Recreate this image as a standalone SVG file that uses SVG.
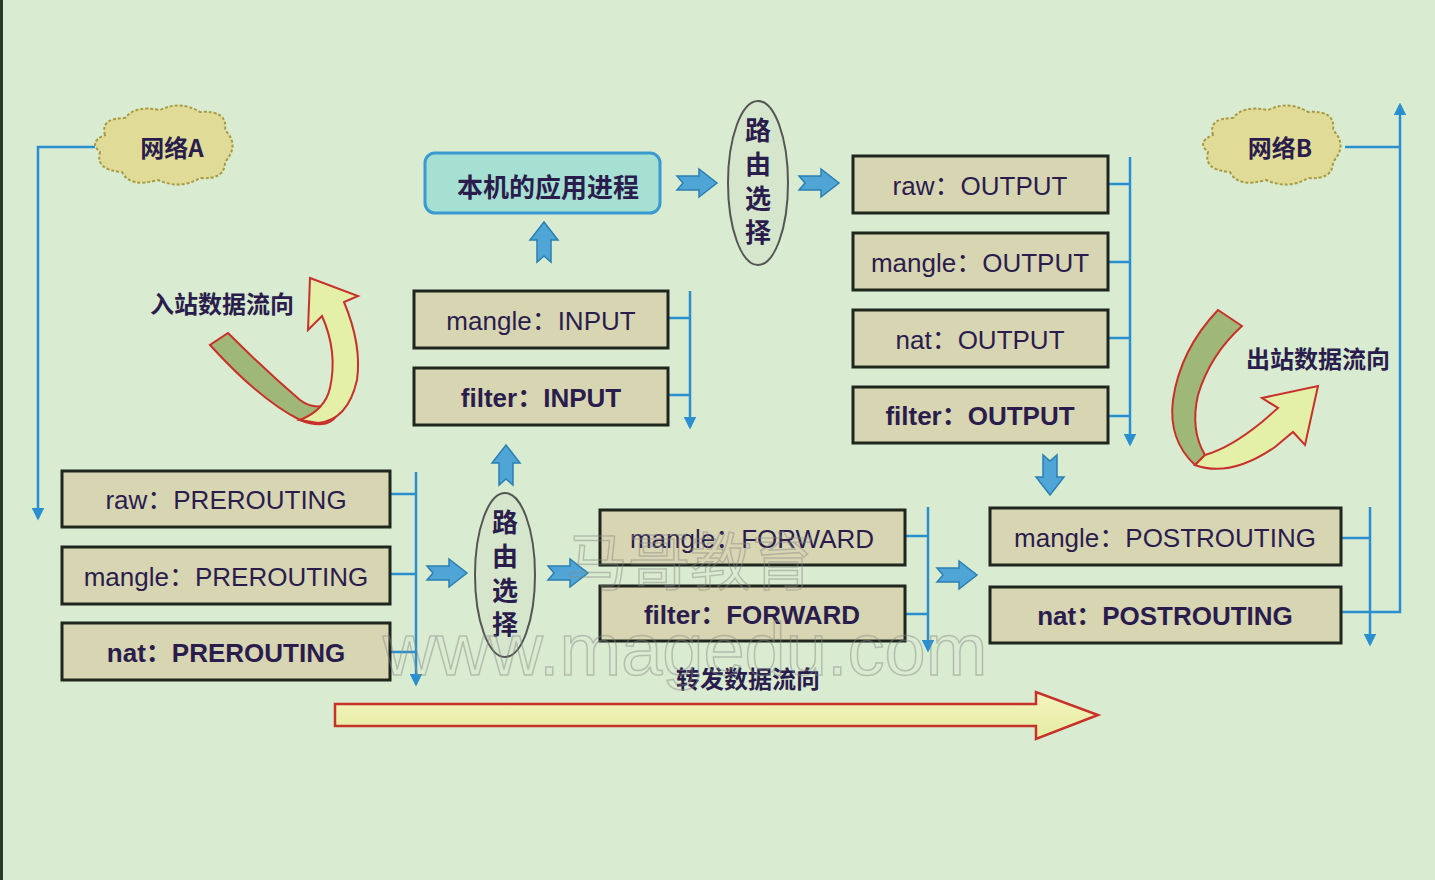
<svg xmlns="http://www.w3.org/2000/svg" width="1435" height="880" viewBox="0 0 1435 880">
<defs>
<style>
.box{fill:#d8d5b2;stroke:#1e261e;stroke-width:3}
.t{font-family:"Liberation Sans","Noto Sans CJK SC",sans-serif;font-size:26px;fill:#2a1d4d;text-anchor:middle}
.b{font-weight:bold}
.cj{font-family:"Noto Sans CJK SC",sans-serif;font-weight:bold;fill:#2a1d4d;text-anchor:middle}
.bus{stroke:#2a8fd0;stroke-width:2.5;fill:none}
.ba{fill:#4fa6d6;stroke:#2b7fb3;stroke-width:1.5}
.ell{fill:#d6e6cc;stroke:#555;stroke-width:2}
.cloud{fill:#e0dc98;stroke:#a89a40;stroke-width:2;stroke-dasharray:3 2}
.wm{font-family:"Liberation Sans","Noto Sans CJK SC",sans-serif;fill:none;stroke:#888;stroke-width:1.5;opacity:0.45;text-anchor:middle}
</style>
<marker id="ah" viewBox="0 0 10 10" refX="8" refY="5" markerWidth="5" markerHeight="5" orient="auto"><path d="M0,0 L10,5 L0,10 Z" fill="#2a8fd0"/></marker>
<path id="ra" d="M-20,-7 L2,-7 L2,-14 L20,0 L2,14 L2,7 L-20,7 L-14,0 Z"/>
<linearGradient id="yg" x1="0" y1="0" x2="0" y2="1"><stop offset="0" stop-color="#f4f4c0"/><stop offset="1" stop-color="#e4eca0"/></linearGradient>
</defs>
<rect width="1435" height="880" fill="#d9ebd0"/>
<rect width="3" height="880" fill="#2a3a2a"/>

<g id="connectors">
<path class="bus" d="M95,147 H38 V518" marker-end="url(#ah)"/>
<path class="bus" d="M416,472 V684" marker-end="url(#ah)"/>
<path class="bus" d="M390,494 H416 M390,574 H416 M390,652 H416"/>
<path class="bus" d="M690,291 V427" marker-end="url(#ah)"/>
<path class="bus" d="M668,318 H690 M668,395 H690"/>
<path class="bus" d="M1130,157 V444" marker-end="url(#ah)"/>
<path class="bus" d="M1108,184 H1130 M1108,262 H1130 M1108,338 H1130 M1108,416 H1130"/>
<path class="bus" d="M928,507 V650" marker-end="url(#ah)"/>
<path class="bus" d="M905,536 H928 M905,614 H928"/>
<path class="bus" d="M1370,507 V644" marker-end="url(#ah)"/>
<path class="bus" d="M1341,538 H1370"/>
<path class="bus" d="M1341,612 H1400 V105" marker-end="url(#ah)"/>
<path class="bus" d="M1345,147 H1400"/>
<use href="#ra" class="ba" transform="translate(447,573)"/>
<use href="#ra" class="ba" transform="translate(568,573)"/>
<use href="#ra" class="ba" transform="translate(957,575)"/>
<use href="#ra" class="ba" transform="translate(697,183)"/>
<use href="#ra" class="ba" transform="translate(819,183)"/>
<use href="#ra" class="ba" transform="translate(506,465) rotate(-90)"/>
<use href="#ra" class="ba" transform="translate(544,242) rotate(-90)"/>
<use href="#ra" class="ba" transform="translate(1050,475) rotate(90)"/>
</g>

<g id="netA"><path class="cloud" d="M105,135 Q100,118 125,118 Q135,105 160,110 Q180,100 200,112 Q228,110 225,130 Q240,145 225,162 Q225,180 200,178 Q180,190 158,180 Q130,188 122,172 Q95,170 100,152 Q88,142 105,135 Z"/><text class="cj" x="172" y="157" font-size="24">网络A</text></g>
<g id="netB"><path class="cloud" d="M1213,135 Q1208,118 1233,118 Q1243,105 1268,110 Q1288,100 1308,112 Q1336,110 1333,130 Q1348,145 1333,162 Q1333,180 1308,178 Q1288,190 1266,180 Q1238,188 1230,172 Q1203,170 1208,152 Q1196,142 1213,135 Z"/><text class="cj" x="1280" y="157" font-size="24">网络B</text></g>

<g id="app"><rect x="425" y="153" width="235" height="60" rx="10" fill="#a6e0d2" stroke="#3a9ad0" stroke-width="3"/><text class="cj" x="548" y="197" font-size="26">本机的应用进程</text></g>

<g id="route1"><ellipse class="ell" cx="505" cy="575" rx="30" ry="82"/><text class="cj" font-size="26" x="505" y="532">路</text><text class="cj" font-size="26" x="505" y="566">由</text><text class="cj" font-size="26" x="505" y="600">选</text><text class="cj" font-size="26" x="505" y="634">择</text></g>
<g id="route2"><ellipse class="ell" cx="758" cy="183" rx="30" ry="82"/><text class="cj" font-size="26" x="758" y="140">路</text><text class="cj" font-size="26" x="758" y="174">由</text><text class="cj" font-size="26" x="758" y="208">选</text><text class="cj" font-size="26" x="758" y="242">择</text></g>

<g id="raw-pre"><rect class="box" x="62" y="471" width="328" height="56"/><text class="t" x="226" y="509">raw：PREROUTING</text></g>
<g id="mangle-pre"><rect class="box" x="62" y="547" width="328" height="57"/><text class="t" x="226" y="586">mangle：PREROUTING</text></g>
<g id="nat-pre"><rect class="box" x="62" y="623" width="328" height="57"/><text class="t b" x="226" y="662">nat：PREROUTING</text></g>

<g id="mangle-in"><rect class="box" x="414" y="291" width="254" height="57"/><text class="t" x="541" y="330">mangle：INPUT</text></g>
<g id="filter-in"><rect class="box" x="414" y="368" width="254" height="57"/><text class="t b" x="541" y="407">filter：INPUT</text></g>

<g id="raw-out"><rect class="box" x="853" y="156" width="255" height="57"/><text class="t" x="980" y="195">raw：OUTPUT</text></g>
<g id="mangle-out"><rect class="box" x="853" y="233" width="255" height="57"/><text class="t" x="980" y="272">mangle：OUTPUT</text></g>
<g id="nat-out"><rect class="box" x="853" y="310" width="255" height="57"/><text class="t" x="980" y="349">nat：OUTPUT</text></g>
<g id="filter-out"><rect class="box" x="853" y="387" width="255" height="56"/><text class="t b" x="980" y="425">filter：OUTPUT</text></g>

<g id="mangle-fwd"><rect class="box" x="600" y="510" width="305" height="55"/><text class="t" x="752" y="548">mangle：FORWARD</text></g>
<g id="filter-fwd"><rect class="box" x="600" y="586" width="305" height="55"/><text class="t b" x="752" y="624">filter：FORWARD</text></g>

<g id="mangle-post"><rect class="box" x="990" y="508" width="351" height="57"/><text class="t" x="1165" y="547">mangle：POSTROUTING</text></g>
<g id="nat-post"><rect class="box" x="990" y="587" width="351" height="56"/><text class="t b" x="1165" y="625">nat：POSTROUTING</text></g>

<g id="inbound"><path d="M210,345 Q260,400 300,420 Q330,432 340,410 L345,395 Q320,415 300,400 Q265,370 228,333 Z" fill="#9fb878" stroke="#c8302a" stroke-width="2"/><path d="M318,423 Q348,420 357,380 Q362,345 344,302 L358,296 L310,278 L308,330 L322,316 Q338,352 330,388 Q325,410 300,420 Z" fill="#e4f0a8" stroke="#c8302a" stroke-width="2"/><text class="cj" x="222" y="313" font-size="24">入站数据流向</text></g>
<g id="outbound"><path d="M1218,310 Q1180,350 1173,400 Q1168,440 1195,465 L1205,455 Q1190,430 1198,395 Q1210,355 1242,326 Z" fill="#9fb878" stroke="#c8302a" stroke-width="2"/><path d="M1195,465 Q1230,478 1275,447 L1293,432 L1305,445 L1318,386 L1262,398 L1278,408 L1262,422 Q1230,448 1205,455 Z" fill="#e4f0a8" stroke="#c8302a" stroke-width="2"/><text class="cj" x="1318" y="368" font-size="24">出站数据流向</text></g>

<g id="forward-flow"><path d="M335,704 H1036 V692 L1098,715 L1036,739 V726 H335 Z" fill="url(#yg)" stroke="#c8302a" stroke-width="2.5"/><text class="cj" x="748" y="688" font-size="24">转发数据流向</text></g>

<g id="watermark"><text class="wm" x="690" y="585" font-size="62">马哥教育</text><text class="wm" x="685" y="675" font-size="74">www.magedu.com</text></g>
</svg>
